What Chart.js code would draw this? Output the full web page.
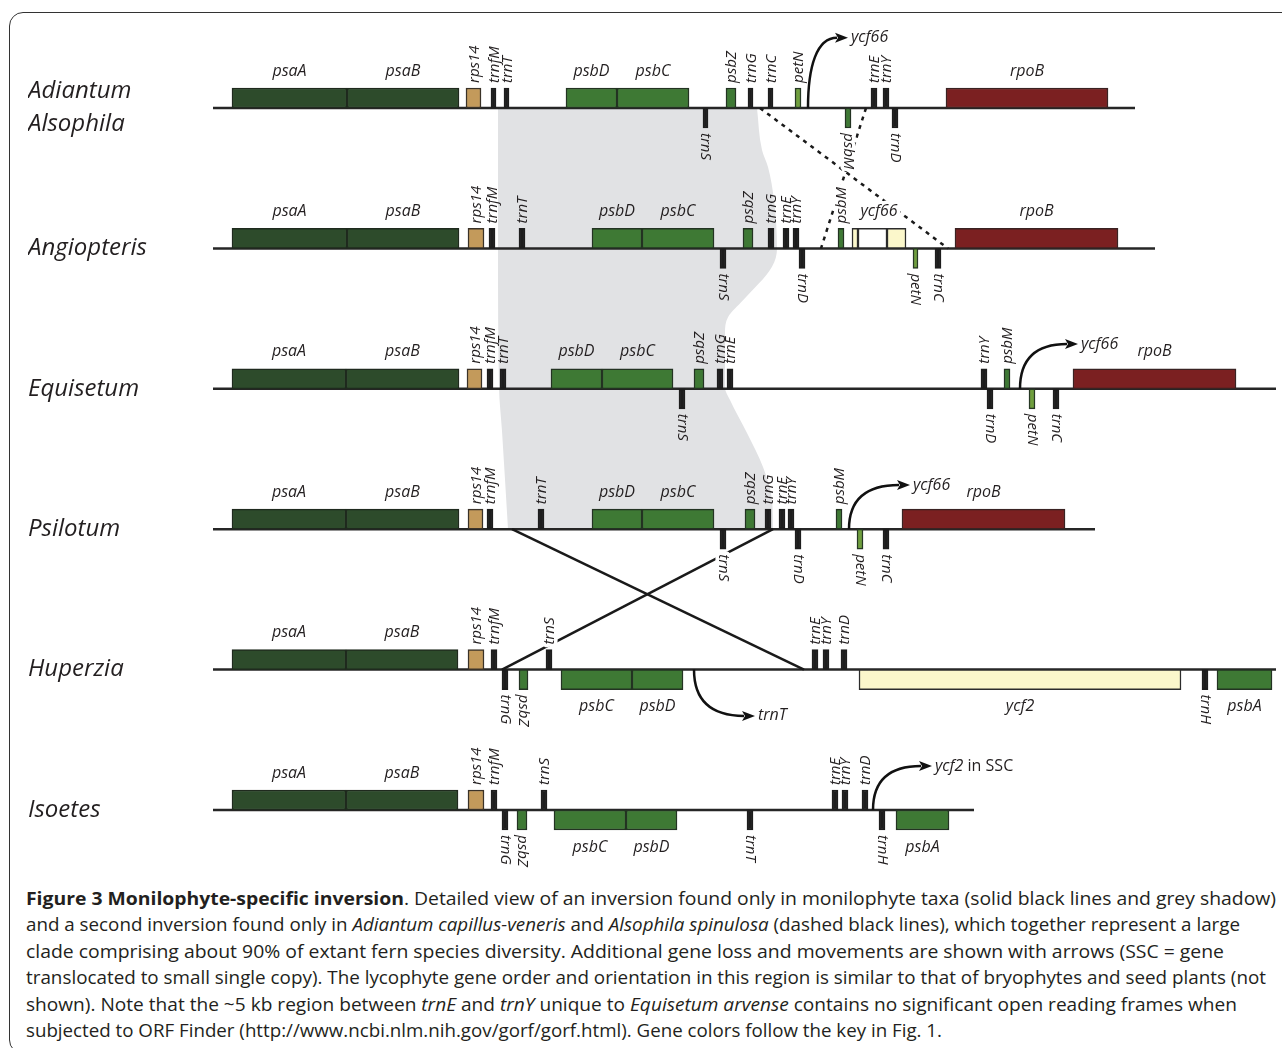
<!DOCTYPE html>
<html>
<head>
<meta charset="utf-8">
<script src="https://cdn.jsdelivr.net/npm/chart.js@4.4.1/dist/chart.umd.min.js"></script>
<style>
html,body{margin:0;padding:0;background:#fff;}
body{width:1282px;height:1048px;position:relative;overflow:hidden;font-family:'Open Sans',sans-serif;}
#frame{position:absolute;left:9px;top:12px;width:1330px;height:1042px;border:1.5px solid #333;border-radius:14px;box-sizing:border-box;}
#chart{position:absolute;left:0;top:0;}
#caption{position:absolute;left:26px;top:885px;font-size:18px;line-height:26.4px;color:#231f20;white-space:nowrap;}
#caption div{transform-origin:0 0;width:max-content;}
#caption b{font-weight:700;}
</style>
</head>
<body>
<div id="frame"></div>
<canvas id="chart" width="1282" height="880"></canvas>
<div id="caption">
<div><b>Figure 3 Monilophyte-specific inversion</b>. Detailed view of an inversion found only in monilophyte taxa (solid black lines and grey shadow)</div>
<div>and a second inversion found only in <i>Adiantum capillus-veneris</i> and <i>Alsophila spinulosa</i> (dashed black lines), which together represent a large</div>
<div>clade comprising about 90% of extant fern species diversity. Additional gene loss and movements are shown with arrows (SSC = gene</div>
<div>translocated to small single copy). The lycophyte gene order and orientation in this region is similar to that of bryophytes and seed plants (not</div>
<div>shown). Note that the ~5 kb region between <i>trnE</i> and <i>trnY</i> unique to <i>Equisetum arvense</i> contains no significant open reading frames when</div>
<div>subjected to ORF Finder (http://www.ncbi.nlm.nih.gov/gorf/gorf.html). Gene colors follow the key in Fig. 1.</div>
</div>
<script>
// ---------------- DATA ----------------
const species = [['Adiantum', 'Alsophila'], 'Angiopteris', 'Equisetum', 'Psilotum', 'Huperzia', 'Isoetes'];

// [gene, start, end, strand side, gene class]
const adiantumGenes = [
  ['psaA', 232, 347, 'up', 'psa'], ['psaB', 347, 459, 'up', 'psa'],
  ['rps14', 466, 481, 'up', 'rps'], ['trnfM', 491, 496, 'up', 'trn'], ['trnT', 504, 509, 'up', 'trn'],
  ['psbD', 566, 617, 'up', 'psb'], ['psbC', 617, 689, 'up', 'psb'],
  ['trnS', 703, 708, 'down', 'trn'], ['psbZ', 726, 736, 'up', 'psb'], ['trnG', 748, 753, 'up', 'trn'],
  ['trnC', 768, 773, 'up', 'trn'], ['petN', 795, 801, 'up', 'pet'], ['psbM', 845, 851, 'down', 'psb'],
  ['trnE', 871, 877, 'up', 'trn'], ['trnY', 883, 889, 'up', 'trn'], ['trnD', 892, 898, 'down', 'trn'],
  ['rpoB', 946, 1108, 'up', 'rpo']
];
const angiopterisGenes = [
  ['psaA', 232, 347, 'up', 'psa'], ['psaB', 347, 459, 'up', 'psa'],
  ['rps14', 468, 484, 'up', 'rps'], ['trnfM', 489, 495, 'up', 'trn'], ['trnT', 519, 525, 'up', 'trn'],
  ['psbD', 592, 642, 'up', 'psb'], ['psbC', 642, 714, 'up', 'psb'], ['trnS', 720, 726, 'down', 'trn'],
  ['psbZ', 743, 753, 'up', 'psb'], ['trnG', 768, 774, 'up', 'trn'], ['trnE', 783, 789, 'up', 'trn'],
  ['trnY', 793, 799, 'up', 'trn'], ['trnD', 799, 805, 'down', 'trn'], ['psbM', 838, 844, 'up', 'psb'],
  ['ycf66', 852, 858, 'up', 'ycf'], ['ycf66', 858, 887, 'up', 'blank'], ['ycf66', 887, 906, 'up', 'ycf'],
  ['petN', 913, 918, 'down', 'pet'], ['trnC', 935, 941, 'down', 'trn'], ['rpoB', 955, 1118, 'up', 'rpo']
];
const equisetumGenes = [
  ['psaA', 232, 346, 'up', 'psa'], ['psaB', 346, 459, 'up', 'psa'],
  ['rps14', 467, 482, 'up', 'rps'], ['trnfM', 487, 493, 'up', 'trn'], ['trnT', 500, 506, 'up', 'trn'],
  ['psbD', 551, 602, 'up', 'psb'], ['psbC', 602, 673, 'up', 'psb'], ['trnS', 679, 685, 'down', 'trn'],
  ['psbZ', 694, 704, 'up', 'psb'], ['trnG', 717, 723, 'up', 'trn'], ['trnE', 727, 733, 'up', 'trn'],
  ['trnY', 981, 987, 'up', 'trn'], ['trnD', 987, 993, 'down', 'trn'], ['psbM', 1004, 1010, 'up', 'psb'],
  ['petN', 1029, 1035, 'down', 'pet'], ['trnC', 1053, 1059, 'down', 'trn'], ['rpoB', 1073, 1236, 'up', 'rpo']
];
const psilotumGenes = [
  ['psaA', 232, 346, 'up', 'psa'], ['psaB', 346, 459, 'up', 'psa'],
  ['rps14', 468, 483, 'up', 'rps'], ['trnfM', 487, 493, 'up', 'trn'], ['trnT', 538, 544, 'up', 'trn'],
  ['psbD', 592, 642, 'up', 'psb'], ['psbC', 642, 714, 'up', 'psb'], ['trnS', 720, 726, 'down', 'trn'],
  ['psbZ', 745, 755, 'up', 'psb'], ['trnG', 765, 771, 'up', 'trn'], ['trnE', 779, 785, 'up', 'trn'],
  ['trnY', 788, 794, 'up', 'trn'], ['trnD', 795, 801, 'down', 'trn'], ['psbM', 836, 842, 'up', 'psb'],
  ['petN', 857, 863, 'down', 'pet'], ['trnC', 883, 889, 'down', 'trn'], ['rpoB', 902, 1065, 'up', 'rpo']
];
const huperziaGenes = [
  ['psaA', 232, 346, 'up', 'psa'], ['psaB', 346, 458, 'up', 'psa'],
  ['rps14', 468, 484, 'up', 'rps'], ['trnfM', 491, 497, 'up', 'trn'], ['trnG', 502, 508, 'down', 'trn'],
  ['psbZ', 519, 528, 'down', 'psb'], ['trnS', 546, 552, 'up', 'trn'],
  ['psbC', 561, 632, 'down', 'psb'], ['psbD', 632, 683, 'down', 'psb'],
  ['trnE', 812, 818, 'up', 'trn'], ['trnY', 823, 829, 'up', 'trn'], ['trnD', 841, 847, 'up', 'trn'],
  ['ycf2', 859, 1181, 'down', 'ycf'], ['trnH', 1202, 1208, 'down', 'trn'], ['psbA', 1217, 1272, 'down', 'psb']
];
const isoetesGenes = [
  ['psaA', 232, 346, 'up', 'psa'], ['psaB', 346, 458, 'up', 'psa'],
  ['rps14', 468, 484, 'up', 'rps'], ['trnfM', 491, 497, 'up', 'trn'], ['trnG', 502, 508, 'down', 'trn'],
  ['psbZ', 517, 527, 'down', 'psb'], ['trnS', 541, 547, 'up', 'trn'],
  ['psbC', 554, 626, 'down', 'psb'], ['psbD', 626, 677, 'down', 'psb'], ['trnT', 747, 753, 'down', 'trn'],
  ['trnE', 832, 838, 'up', 'trn'], ['trnY', 842, 848, 'up', 'trn'], ['trnD', 862, 868, 'up', 'trn'],
  ['trnH', 879, 885, 'down', 'trn'], ['psbA', 896, 949, 'down', 'psb']
];
const rowGenes = [adiantumGenes, angiopterisGenes, equisetumGenes, psilotumGenes, huperziaGenes, isoetesGenes];

// map extent of each row: start, end
const rowStarts = [213, 213, 213, 213, 213, 213];
const rowEnds = [1135, 1155, 1276, 1095, 1276, 974];

// inversion end points [position, row]
const inversionLines = [[[512, 3], [804, 4]], [[773, 3], [502, 4]]];
const secondInversionLines = [[[760, 0], [948, 1]], [[866, 0], [821, 1]]];

// grey shadow boundaries [position, row]
const shadeLeft = [[498, 0], [498, 1], [499, 1.99], [502, 2.3], [508, 3]];
const shadeRight = [[757, 0], [762, 0.3], [768, 0.42], [774, 0.655], [777, 1.0], [772, 1.13], [743, 1.37],
  [728, 1.49], [725, 1.6], [725, 1.99], [730, 2.08], [747, 2.315], [763, 2.557], [772, 2.79], [773, 3]];

// gene movements: from [position,row] to [position,row]
const arrowFrom = [[808, 0], [1020, 2], [849, 3], [694, 4], [873, 5]];
const arrowTo = [[848, -0.5], [1078, 1.681], [910, 2.685], [755, 4.33], [932, 4.687]];
const arrowLabels = [['ycf66', ''], ['ycf66', ''], ['ycf66', ''], ['trnT', ''], ['ycf2', ' in SSC']];

// caption line right edges (for fitting the caption font)
const captionLineEnds = [1276, 1240, 1224, 1266, 1237, 942];

// ---------------- STYLE ----------------
const BASE0_PX = 108, ROW_PX = 140.4, CANVAS_H = 880, GENE_H = 20, LABEL_GAP = 37;
const Y_MIN = -BASE0_PX / ROW_PX, Y_MAX = Y_MIN + CANVAS_H / ROW_PX;
const TEXT = '#231f20';
const COLORS = {
  psa: ['#2d4b2b', '#1f2a1e'], psb: ['#3e7934', '#233322'], rps: ['#c39a5b', '#3a3228'],
  trn: ['#1d1d1d', '#1d1d1d'], rpo: ['#7b2021', '#3a2222'], ycf: ['#fbf7cb', '#2c2c2c'],
  blank: ['#ffffff', '#2c2c2c'], pet: ['#6f9f3d', '#263824']
};
const haloLabels = ['0:psbM', '1:psbM', '1:ycf66', '3:trnS', '4:trnS'];
Chart.defaults.font.family = "'Open Sans', sans-serif";

const pt = a => ({x: a[0], y: a[1]});
const datasets = [];
datasets.push({type: 'line', indexAxis: 'y', data: shadeLeft.map(pt), borderWidth: 0, pointRadius: 0,
  cubicInterpolationMode: 'monotone', fill: 1, backgroundColor: '#e1e2e4', order: 100});
datasets.push({type: 'line', indexAxis: 'y', data: shadeRight.map(pt), borderWidth: 0, pointRadius: 0,
  cubicInterpolationMode: 'monotone', fill: false, order: 99});
rowGenes.forEach((g, r) => datasets.push({type: 'line', data: [{x: rowStarts[r], y: r}, {x: rowEnds[r], y: r}],
  borderColor: '#262626', borderWidth: 2.5, pointRadius: 0, fill: false, order: 50}));
inversionLines.forEach(l => datasets.push({type: 'line', data: l.map(pt), borderColor: '#1a1a1a',
  borderWidth: 2.5, pointRadius: 0, fill: false, order: 40}));
secondInversionLines.forEach(l => datasets.push({type: 'line', data: l.map(pt), borderColor: '#1a1a1a',
  borderWidth: 2.5, borderDash: [4, 5], pointRadius: 0, fill: false, order: 40}));
const barData = rowGenes.flatMap((genes, r) => genes.map(g => ({
  x: [g[1], g[2]], y: r + (g[3] === 'up' ? -1 : 1) * GENE_H / 2 / ROW_PX, kind: g[4]})));
datasets.push({type: 'bar', indexAxis: 'y', data: barData, barThickness: GENE_H, borderSkipped: false,
  borderWidth: 1.5, backgroundColor: c => COLORS[c.raw.kind][0], borderColor: c => COLORS[c.raw.kind][1],
  grouped: false, order: 10});

function drawText(ctx, txt, x, y, halo) {
  if (halo) { ctx.save(); ctx.strokeStyle = '#fff'; ctx.lineWidth = 7; ctx.lineJoin = 'round'; ctx.strokeText(txt, x, y); ctx.restore(); }
  ctx.fillText(txt, x, y);
}

const labelPlugin = {
  id: 'geneLabels',
  afterDatasetsDraw(chart) {
    const {ctx} = chart; const xs = chart.scales.x, ys = chart.scales.y;
    ctx.save();
    ctx.fillStyle = TEXT;
    rowGenes.forEach((genes, r) => {
      const base = ys.getPixelForValue(r);
      const groups = [];
      genes.forEach(g => {
        const last = groups[groups.length - 1];
        if (last && last.name === g[0] && last.side === g[3]) last.end = g[2];
        else groups.push({name: g[0], start: g[1], end: g[2], side: g[3]});
      });
      groups.forEach(gr => {
        const x0 = xs.getPixelForValue(gr.start), x1 = xs.getPixelForValue(gr.end);
        const cx = (x0 + x1) / 2, dir = gr.side === 'up' ? -1 : 1;
        const halo = haloLabels.includes(r + ':' + gr.name);
        if (x1 - x0 > 20) {
          ctx.font = "italic 16px 'Open Sans'";
          ctx.textAlign = 'center'; ctx.textBaseline = 'middle';
          drawText(ctx, gr.name, cx, base + dir * LABEL_GAP, halo);
        } else {
          ctx.font = "italic 15px 'Open Sans'";
          ctx.save();
          ctx.translate(cx + (dir < 0 ? 1 : 0), base + dir * (GENE_H + 5));
          ctx.rotate(dir < 0 ? -Math.PI / 2 : Math.PI / 2);
          ctx.textAlign = 'left'; ctx.textBaseline = 'middle';
          drawText(ctx, gr.name, 0, 0, halo);
          ctx.restore();
        }
      });
    });
    // movement arrows
    ctx.strokeStyle = '#111'; ctx.fillStyle = '#111'; ctx.lineWidth = 2.5;
    arrowFrom.forEach((f, i) => {
      const sx = xs.getPixelForValue(f[0]), sy = ys.getPixelForValue(f[1]);
      const ex = xs.getPixelForValue(arrowTo[i][0]), ey = ys.getPixelForValue(arrowTo[i][1]);
      const head = 13, hw = 5;
      ctx.beginPath();
      ctx.moveTo(sx, sy);
      ctx.bezierCurveTo(sx, ey + (sy - ey) * 0.4, sx + (ex - sx) * 0.22, ey, ex - head + 2, ey);
      ctx.stroke();
      ctx.beginPath();
      ctx.moveTo(ex, ey); ctx.lineTo(ex - head, ey - hw); ctx.lineTo(ex - head + 3, ey); ctx.lineTo(ex - head, ey + hw);
      ctx.closePath(); ctx.fill();
      ctx.fillStyle = TEXT; ctx.textAlign = 'left'; ctx.textBaseline = 'middle';
      ctx.font = "italic 16px 'Open Sans'";
      const t = arrowLabels[i];
      ctx.fillText(t[0], ex + 3, ey);
      if (t[1]) {
        const w = ctx.measureText(t[0]).width;
        ctx.font = "16px 'Open Sans'";
        ctx.fillText(t[1], ex + 3 + w, ey);
      }
      ctx.fillStyle = '#111';
    });
    ctx.restore();
  }
};

new Chart(document.getElementById('chart'), {
  type: 'bar',
  data: {datasets},
  options: {
    responsive: false, animation: false, events: [],
    layout: {padding: {left: 28, right: 0, top: 0, bottom: 0}, autoPadding: false},
    plugins: {legend: {display: false}, tooltip: {enabled: false}, title: {display: false}},
    scales: {
      x: {type: 'linear', display: false, offset: false, min: 213, max: 1282, grid: {offset: false}},
      y: {
        type: 'linear', reverse: true, offset: false, min: Y_MIN, max: Y_MAX, position: 'left',
        beginAtZero: false, grid: {display: false, offset: false}, border: {display: false},
        afterBuildTicks: s => { s.ticks = species.map((_, i) => ({value: i})); },
        afterFit: s => { s.width = 185; s.paddingTop = 0; s.paddingBottom = 0; },
        ticks: {
          autoSkip: false, padding: 0, crossAlign: 'far', color: TEXT,
          font: {family: "'Open Sans'", style: 'italic', size: 24, lineHeight: 1.38},
          callback: v => species[Math.round(v)]
        }
      }
    }
  },
  plugins: [labelPlugin]
});

function fitCaption() {
  const lines = document.querySelectorAll('#caption div');
  lines.forEach((el, i) => {
    el.style.transform = 'none';
    const w = el.getBoundingClientRect().width;
    el.style.transform = 'scaleX(' + ((captionLineEnds[i] - 26) / w) + ')';
  });
}
fitCaption();
if (document.fonts) document.fonts.ready.then(fitCaption);
</script>
</body>
</html>
